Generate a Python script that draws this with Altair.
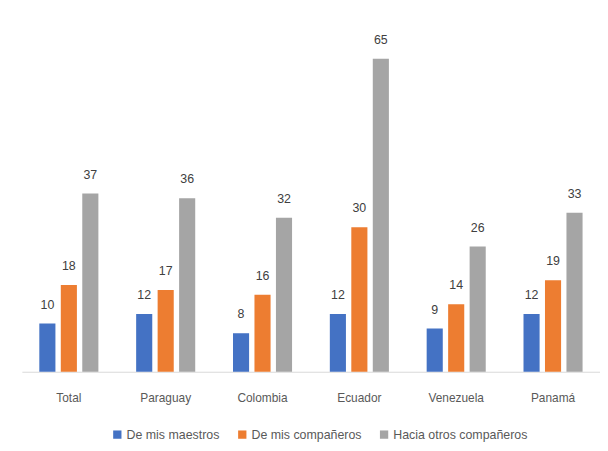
import altair as alt
import pandas as pd

categories = ["Total", "Paraguay", "Colombia", "Ecuador", "Venezuela", "Panamá"]
series = ["De mis maestros", "De mis compañeros", "Hacia otros compañeros"]
maestros = [10, 12, 8, 12, 9, 12]
companeros = [18, 17, 16, 30, 14, 19]
otros = [37, 36, 32, 65, 26, 33]
colors = ["#4472C4", "#ED7D31", "#A5A5A5"]

rows = []
for vals, s in zip([maestros, companeros, otros], series):
    for c, v in zip(categories, vals):
        rows.append({"pais": c, "serie": s, "valor": v})
df = pd.DataFrame(rows)

FONT = "Liberation Sans"

base = alt.Chart(df).encode(
    x=alt.X("pais:N", sort=categories, title=None,
            scale=alt.Scale(paddingInner=0.39, paddingOuter=0.18),
            axis=alt.Axis(labelAngle=0, ticks=False, domainColor="#D9D9D9",
                          labelColor="#595959", labelFont=FONT, labelFontSize=12,
                          labelPadding=21)),
    xOffset=alt.XOffset("serie:N", sort=series,
                        scale=alt.Scale(paddingInner=0.25, paddingOuter=0)),
    y=alt.Y("valor:Q", title=None, scale=alt.Scale(domain=[0, 70], nice=False),
            axis=None),
)

bars = base.mark_bar().encode(
    color=alt.Color("serie:N", sort=series, title=None,
                    scale=alt.Scale(domain=series, range=colors),
                    legend=alt.Legend(orient="none", legendX=90, legendY=397,
                                      direction="horizontal", symbolType="square",
                                      symbolSize=70, symbolStrokeWidth=0,
                                      labelFont=FONT, labelFontSize=12.5,
                                      labelColor="#595959", columnPadding=16,
                                      labelOffset=3))
)

labels = base.mark_text(baseline="bottom", dy=-12, font=FONT, fontSize=12.5,
                        color="#404040").encode(text="valor:Q")

chart = (bars + labels).properties(
    width=583, height=340,
    background="white",
    autosize=alt.AutoSizeParams(type="none"),
    padding={"left": 14, "top": 25, "right": 0, "bottom": 70},
).configure_view(stroke=None)

chart.save("out.html", embed_options={"renderer": "svg", "actions": False})
